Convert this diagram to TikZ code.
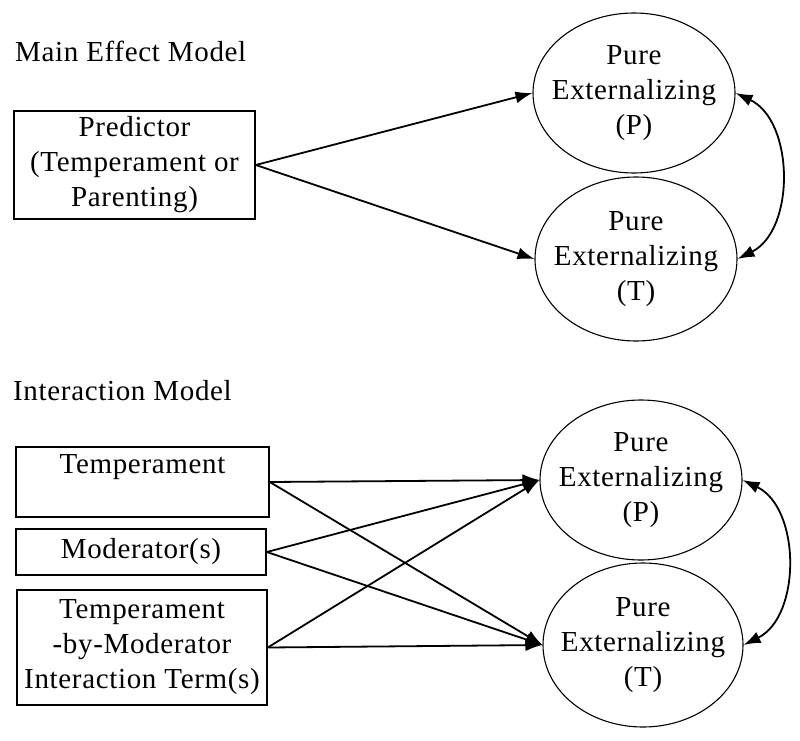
\documentclass[tikz,border=0pt]{standalone}
\usepackage{fontspec}
\setmainfont[LetterSpace=2.3]{Liberation Serif}
\usetikzlibrary{shapes.geometric,arrows.meta}
\begin{document}
\begin{tikzpicture}[x=1pt,y=-1pt,
  every node/.style={font=\fontsize{29}{35}\selectfont},
  box/.style={draw, line width=1.6pt, inner sep=0pt, align=center},
  ell/.style={draw, ellipse, line width=1.1pt, inner xsep=-16pt, inner ysep=0pt, align=center},
  title/.style={anchor=base west, inner sep=0pt},
  path/.style={line width=1.8pt, -{Latex[length=17pt,width=12pt]}},
  cov/.style={line width=1.8pt, {Latex[length=17pt,width=12pt]}-{Latex[length=17pt,width=12pt]}}
]
\useasboundingbox (0,0) rectangle (800,741);

\node[title] (t1) at (15,62) {Main Effect Model};
\node[box, minimum width=241pt, minimum height=108pt] (pred) at (134.5,165)
  {Predictor\\(Temperament or\\Parenting)};
\node[ell, minimum width=202pt, minimum height=160pt] (e1) at (634,93)
  {Pure\\Externalizing\\(P)};
\node[ell, minimum width=202pt, minimum height=164pt] (e2) at (636,259)
  {Pure\\Externalizing\\(T)};
\draw[path] (pred.east) -- (e1.west);
\draw[path] (pred.east) -- (e2.west);
\draw[cov] (e1.east) to[bend left=64] (e2.east);

\node[title] (t2) at (13,400) {Interaction Model};
\node[box, minimum width=253pt, minimum height=70pt] (temp) at (142.5,482)
  {Temperament\\~};
\node[box, minimum width=250pt, minimum height=46pt] (mod) at (141,552)
  {Moderator(s)};
\node[box, minimum width=250pt, minimum height=115pt] (int) at (142,647.5)
  {Temperament\\-by-Moderator\\Interaction Term(s)};
\node[ell, minimum width=202pt, minimum height=160pt] (e3) at (641,480)
  {Pure\\Externalizing\\(P)};
\node[ell, minimum width=200pt, minimum height=164pt] (e4) at (643,645)
  {Pure\\Externalizing\\(T)};
\foreach \s in {temp,mod,int}{
  \draw[path] (\s.east) -- (e3.west);
  \draw[path] (\s.east) -- (e4.west);
}
\draw[cov] (e3.east) to[bend left=64] (e4.east);
\end{tikzpicture}
\end{document}
